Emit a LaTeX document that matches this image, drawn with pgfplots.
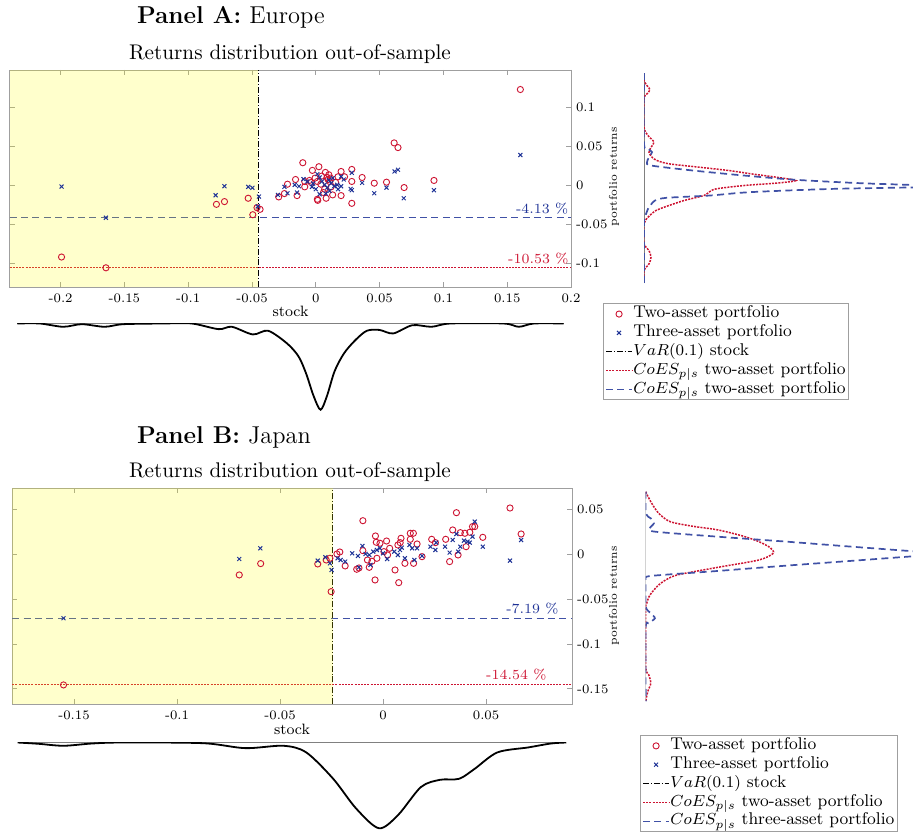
\documentclass[border=0pt]{standalone}
\usepackage{pgfplots}
\pgfplotsset{compat=1.18}
\definecolor{cred}{RGB}{205,20,50}
\definecolor{cblue}{RGB}{30,50,150}
\definecolor{cyel}{RGB}{255,255,0}
\pgfplotsset{
  mainax/.style={scale only axis, axis line style={gray!75}, tick style={gray!75, line width=0.4pt},
    major tick length=2.5pt, tick align=inside, yticklabel pos=right,
    ticklabel style={font=\fontsize{6.5}{7}\selectfont},
    yticklabel style={xshift=-1pt},
    legend cell align=left,
    legend image code/.code={\draw[mark repeat=2,mark phase=2,#1] plot coordinates {(0pt,0pt) (6.5pt,0pt) (13pt,0pt)};},
    legend style={anchor=north west, draw=gray!75, font=\fontsize{8.5}{9}\selectfont,
      inner xsep=1pt, inner ysep=0.6pt, row sep=0pt,
      nodes={inner sep=0.35pt, text height=6.3pt, text depth=2.4pt}}},
  dens/.style={scale only axis, hide axis, clip=true},
  twomark/.style={only marks, mark=o, cred, mark size=1.55pt, mark options={line width=0.45pt}},
  threemark/.style={only marks, mark=x, cblue, mark size=1.4pt, mark options={line width=0.5pt}},
  varline/.style={black, densely dashdotted, line width=0.45pt},
  redline/.style={cred, dash pattern=on 1pt off 0.6pt, line width=0.65pt},
  blueline/.style={cblue!85!white, dash pattern=on 3.5pt off 2.2pt, line width=0.55pt},
}
\begin{document}
\begin{tikzpicture}
\path[use as bounding box] (0,0) rectangle (456.5pt,415.5pt);
% ---------------- Panel A ----------------
\node[anchor=west, font=\fontsize{12.2}{14}\selectfont] at (65pt,407pt) {\textbf{Panel A:} Europe};
\node[font=\fontsize{10.6}{12}\selectfont] at (145pt,388.5pt) {Returns distribution out-of-sample};
\begin{axis}[mainax, at={(4.8pt,380.5pt)}, anchor=north west, width=280.7pt, height=108.5pt,
  xmin=-0.24, xmax=0.2, ymin=-0.13, ymax=0.148,
  xtick={-0.2,-0.15,-0.1,-0.05,0,0.05,0.1,0.15,0.2},
  xticklabels={-0.2,-0.15,-0.1,-0.05,0,0.05,0.1,0.15,0.2},
  ytick={-0.1,-0.05,0,0.05,0.1}, yticklabels={-0.1,-0.05,0,0.05,0.1},
  legend style={at={(1.057,-0.074)}}]
\addplot[twomark] coordinates {(0.1603,0.123)(-0.1993,-0.0916)(-0.1645,-0.1054)(-0.0779,-0.0241)(-0.0716,-0.0206)(-0.053,-0.0163)(-0.0494,-0.0374)(-0.0461,-0.0284)(-0.0437,-0.0305)(0.0614,0.0546)(0.0644,0.0486)(-0.0102,0.0292)(0.0024,0.0241)(-0.0027,0.0194)(0.0282,0.0206)(0.0198,0.018)(0.0363,0.0103)(0.0282,0.0052)(0.0554,0.0043)(0.0458,0.003)(0.0926,0.0065)(0.0692,-0.0026)(0.0282,-0.0228)(0.0081,-0.0163)(0.0012,-0.0176)(0.0015,-0.019)(0.0132,-0.012)(0.0198,-0.0129)(-0.0291,-0.0146)(-0.0246,-0.0103)(-0.0147,-0.0129)(-0.0222,0.0017)(-0.0159,0.0077)(-0.0087,0.0052)(-0.0087,-0.0017)(0.0075,0.0168)(0.0102,0.0138)(0.0174,0.0112)(0.0225,0.0112)(0.0039,0.0017)(0.0108,0.0052)(0.0096,0.0077)(-0.0006,0.0095)(0.0069,-0.0047)(0.012,-0.0017)(-0.0036,0.0039)(0.0012,0.0052)(0.0045,0.012)(0.0088,0.0105)(-0.005,0.0065)(0.0155,0.004)(0.006,-0.009)(0.0115,0.0095)};
\addplot[threemark] coordinates {(0.1603,0.0391)(-0.1993,-0.0013)(-0.1645,-0.0413)(-0.0785,-0.0125)(-0.0716,-0.0009)(-0.053,-0.0017)(-0.0497,-0.003)(-0.0446,-0.0142)(-0.0455,-0.0267)(0.0617,0.018)(0.0644,0.0202)(0.0926,-0.006)(0.0689,-0.0163)(0.0554,-0.0026)(0.0458,-0.0099)(0.0363,0.0034)(0.0282,0.0163)(0.0273,-0.0043)(0.0282,-0.006)(0.0198,-0.0009)(0.0198,0.0116)(0.0219,0.0077)(-0.0297,-0.012)(-0.0246,-0.0017)(-0.0222,-0.0099)(-0.0147,-0.009)(-0.0165,0.0009)(-0.0132,-0.0009)(-0.0096,0.0082)(-0.0066,0.0052)(-0.0021,0.0026)(0.0012,0.0146)(0.003,0.0103)(0.0048,0.0052)(0.0069,0.0009)(0.009,-0.0026)(0.0108,-0.0069)(0.012,0.003)(0.0144,-0.0009)(0.0168,0.0009)(0.003,-0.0112)(0,-0.0047)(-0.003,-0.0017)(0.0078,-0.0103)(0.0102,0.0069)(0.0132,0.0095)(0.0174,-0.0047)};
\addplot[varline] coordinates {(-0.0453,-0.13)(-0.0453,0.148)};
\addplot[redline] coordinates {(-0.24,-0.1053)(0.2,-0.1053)};
\addplot[blueline] coordinates {(-0.24,-0.0413)(0.2,-0.0413)};
\addplot[draw=none, fill=cyel, fill opacity=0.2, forget plot] coordinates {(-0.24,-0.13)(-0.0453,-0.13)(-0.0453,0.148)(-0.24,0.148)} -- cycle;
\node[cblue, font=\fontsize{7}{8}\selectfont] at (axis cs:0.1774,-0.029) {-4.13 \%};
\node[cred, font=\fontsize{7}{8}\selectfont] at (axis cs:0.1744,-0.094) {-10.53 \%};
\legend{Two-asset portfolio, Three-asset portfolio, $VaR(0.1)$ stock, $CoES_{p|s}$ two-asset portfolio, $CoES_{p|s}$ two-asset portfolio}
\end{axis}
\node[font=\fontsize{7.5}{8}\selectfont] at (145.25pt,260pt) {stock};
\node[rotate=90, font=\fontsize{5.6}{6}\selectfont] at (307pt,327pt) {portfolio returns};
% right density A
\begin{axis}[dens, at={(322pt,380.5pt)}, anchor=north west, width=134.5pt, height=108.5pt,
  xmin=0, xmax=269, ymin=-0.13, ymax=0.148]
\addplot[gray, line width=0.4pt] coordinates {(0,-0.1252)(0,0.144)};
\addplot[redline, line width=0.75pt, smooth, tension=0.45] coordinates {(0,0.144)(0,0.1346)(3,0.128)(6,0.1227)(3,0.1175)(0,0.111)(0,0.0748)(4,0.064)(10,0.0556)(7,0.049)(5,0.0427)(8,0.0363)(13,0.032)(25,0.0278)(55,0.0235)(85,0.0192)(107,0.015)(132,0.0107)(152,0.0064)(135,0.0034)(100,0)(72,-0.0043)(65,-0.0085)(60,-0.0128)(40,-0.0192)(25,-0.0256)(12,-0.032)(4,-0.0406)(0,-0.049)(0,-0.0748)(5,-0.0833)(7,-0.0919)(5,-0.1004)(0,-0.109)(0,-0.1252)};
\addplot[blueline, line width=0.85pt, smooth, tension=0.45] coordinates {(0,0.144)(0,0.054)(4,0.047)(8,0.0427)(5,0.0363)(3,0.0299)(7,0.0256)(49,0.0192)(100,0.0128)(152,0.0073)(216,0.003)(300,-0.0013)(189,-0.0043)(106,-0.0085)(66,-0.0128)(22,-0.0158)(11,-0.0192)(7,-0.0244)(4,-0.0299)(1,-0.0406)(0,-0.0491)(0,-0.1252)};
\end{axis}
% bottom density A
\begin{axis}[dens, at={(4.8pt,254pt)}, anchor=north west, width=280.7pt, height=44.5pt,
  xmin=-0.24, xmax=0.2, ymin=-89, ymax=0.5]
\addplot[gray, line width=0.4pt] coordinates {(-0.234,0)(0.1942,0)};
\addplot[black, line width=0.9pt, smooth, tension=0.5] coordinates {(-0.234,0)(-0.2163,0)(-0.198,-3.3)(-0.1834,-0.7)(-0.1656,-3.3)(-0.151,-0.7)(-0.12,0)(-0.0972,0)(-0.0762,-5.7)(-0.0658,-3.3)(-0.0494,-11)(-0.0374,-7.3)(-0.0226,-20)(-0.0136,-33)(-0.0077,-50)(-0.0017,-73)(0.0037,-86.7)(0.0087,-73)(0.0147,-48)(0.0221,-30)(0.031,-16.7)(0.04,-7.3)(0.05,-6.5)(0.0607,-10)(0.0757,-1.7)(0.0907,-3.3)(0.1055,0)(0.1471,0)(0.1591,-3.3)(0.171,0)(0.1942,0)};
\end{axis}
% ---------------- Panel B ----------------
\node[anchor=west, font=\fontsize{12.2}{14}\selectfont] at (65pt,197pt) {\textbf{Panel B:} Japan};
\node[font=\fontsize{10.6}{12}\selectfont] at (145pt,179.5pt) {Returns distribution out-of-sample};
\begin{axis}[mainax, at={(6.1pt,171.35pt)}, anchor=north west, width=279.9pt, height=107.8pt,
  xmin=-0.18, xmax=0.0917, ymin=-0.1667, ymax=0.073,
  xtick={-0.15,-0.1,-0.05,0,0.05}, xticklabels={-0.15,-0.1,-0.05,0,0.05},
  ytick={-0.15,-0.1,-0.05,0,0.05}, yticklabels={-0.15,-0.1,-0.05,0,0.05},
  legend style={at={(1.1215,-0.1437)}}]
\addplot[twomark] coordinates {(-0.1551,-0.1456)(-0.0698,-0.0233)(-0.0594,-0.0107)(-0.0317,-0.0111)(-0.0276,-0.0067)(-0.0258,-0.0048)(-0.0252,-0.0419)(-0.0224,0)(-0.021,0.0022)(-0.0184,-0.0133)(-0.0098,0.0037)(-0.0098,0.037)(-0.0128,-0.017)(-0.0117,-0.0156)(-0.0037,0.02)(-0.0033,0.013)(-0.0015,0.0119)(-0.0039,-0.0289)(-0.0076,-0.0067)(-0.0067,-0.0148)(-0.0054,-0.0081)(-0.003,-0.0048)(0.0017,0.0144)(0.0032,0.0063)(0.0058,-0.0178)(0.0076,-0.0319)(0.0072,0.01)(0.0083,0.0126)(0.0087,0.0174)(0.0106,-0.0104)(0.0132,0.023)(0.0147,0.023)(0.0132,0.0163)(0.0148,-0.0104)(0.0165,0.0111)(0.0189,-0.003)(0.0236,0.0163)(0.0254,0.0126)(0.0304,0.0163)(0.0323,-0.0085)(0.0338,0.0267)(0.0356,0.0459)(0.0364,-0.0011)(0.0375,0.0237)(0.0397,0.023)(0.0403,0.0081)(0.0421,0.0241)(0.0434,0.0304)(0.0445,0.0304)(0.0484,0.0185)(0.0616,0.0511)(0.067,0.0222)(0.0004,0.0026)(0.0022,-0.0011)};
\addplot[threemark] coordinates {(-0.1551,-0.0715)(-0.0698,-0.0056)(-0.0596,0.0063)(-0.0317,-0.0074)(-0.028,-0.0037)(-0.0258,-0.0104)(-0.025,-0.0178)(-0.0221,-0.0048)(-0.0206,-0.0067)(-0.0184,-0.0085)(-0.015,0.0007)(-0.0122,-0.0022)(-0.0117,-0.0148)(-0.01,0.0089)(-0.0085,0)(-0.0067,-0.0011)(-0.0061,-0.0122)(-0.0048,0.0026)(-0.003,0.0044)(-0.0015,0.0063)(0,0.0007)(0.002,-0.0056)(0.0054,0.0026)(0.0072,-0.0011)(0.0082,0.0044)(0.0091,0.007)(0.0106,-0.0048)(0.0128,0.01)(0.0141,0.0063)(0.0152,-0.0067)(0.0165,0.0063)(0.0189,-0.0022)(0.023,0.0081)(0.0254,0.0044)(0.0258,0.0126)(0.0301,0.0081)(0.0323,0.0015)(0.0338,0.0156)(0.0356,0.0222)(0.0365,0.0026)(0.0375,0.0081)(0.0393,0.0148)(0.041,0.0137)(0.0421,0.0126)(0.0434,0.0193)(0.0445,0.0359)(0.0484,0.0081)(0.0616,-0.0074)(0.067,0.0156)};
\addplot[varline] coordinates {(-0.0245,-0.1667)(-0.0245,0.073)};
\addplot[redline] coordinates {(-0.18,-0.1454)(0.0917,-0.1454)};
\addplot[blueline] coordinates {(-0.18,-0.0719)(0.0917,-0.0719)};
\addplot[draw=none, fill=cyel, fill opacity=0.2, forget plot] coordinates {(-0.18,-0.1667)(-0.0245,-0.1667)(-0.0245,0.073)(-0.18,0.073)} -- cycle;
\node[cblue, font=\fontsize{7}{8}\selectfont] at (axis cs:0.0725,-0.0604) {-7.19 \%};
\node[cred, font=\fontsize{7}{8}\selectfont] at (axis cs:0.0647,-0.1344) {-14.54 \%};
\legend{Two-asset portfolio, Three-asset portfolio, $VaR(0.1)$ stock, $CoES_{p|s}$ two-asset portfolio, $CoES_{p|s}$ three-asset portfolio}
\end{axis}
\node[font=\fontsize{7.5}{8}\selectfont] at (146pt,50.6pt) {stock};
\node[rotate=90, font=\fontsize{5.6}{6}\selectfont] at (307pt,117.5pt) {portfolio returns};
% right density B
\begin{axis}[dens, at={(322.85pt,171.35pt)}, anchor=north west, width=133.65pt, height=107.8pt,
  xmin=0, xmax=267.3, ymin=-0.1667, ymax=0.073]
\addplot[gray, line width=0.4pt] coordinates {(0,-0.164)(0,0.0692)};
\addplot[redline, line width=0.75pt, smooth, tension=0.45] coordinates {(0,0.0692)(5,0.058)(12.7,0.0452)(24,0.0359)(45,0.031)(71,0.0267)(95,0.02)(111,0.0137)(122,0.007)(125,0.0007)(111,-0.0067)(71,-0.0148)(31,-0.0233)(18,-0.03)(11,-0.0363)(4,-0.046)(1,-0.0548)(0,-0.062)(0,-0.125)(3,-0.1344)(5,-0.1437)(2,-0.153)(0,-0.164)};
\addplot[blueline, line width=0.85pt, smooth, tension=0.45] coordinates {(0,0.0692)(0,0.045)(5,0.0396)(8,0.0341)(4,0.0285)(9,0.0248)(73,0.019)(138,0.0137)(203,0.008)(267,0.0026)(300,0)(267,-0.0022)(200,-0.0078)(134,-0.0133)(67,-0.0192)(20,-0.023)(1,-0.0252)(0,-0.03)(0,-0.0585)(5,-0.0659)(9,-0.0715)(3,-0.077)(0,-0.0826)(0,-0.164)};
\end{axis}
% bottom density B
\begin{axis}[dens, at={(6.1pt,44.5pt)}, anchor=north west, width=279.9pt, height=43.5pt,
  xmin=-0.18, xmax=0.0917, ymin=-87.5, ymax=0.5]
\addplot[gray, line width=0.4pt] coordinates {(-0.1774,0)(0.0889,0)};
\addplot[black, line width=0.9pt, smooth, tension=0.5] coordinates {(-0.1774,0)(-0.1672,-1.3)(-0.1551,-3.3)(-0.1412,-1)(-0.1263,0)(-0.0874,-0.7)(-0.0669,-5.7)(-0.0484,-3.3)(-0.0373,-10)(-0.0242,-36.7)(-0.0131,-66.7)(-0.002,-86.7)(0.0073,-73.3)(0.0184,-45)(0.0277,-37.7)(0.0369,-36.7)(0.0444,-26.7)(0.0555,-10)(0.0704,-5)(0.0815,-1)(0.0889,0)};
\end{axis}
\end{tikzpicture}
\end{document}
